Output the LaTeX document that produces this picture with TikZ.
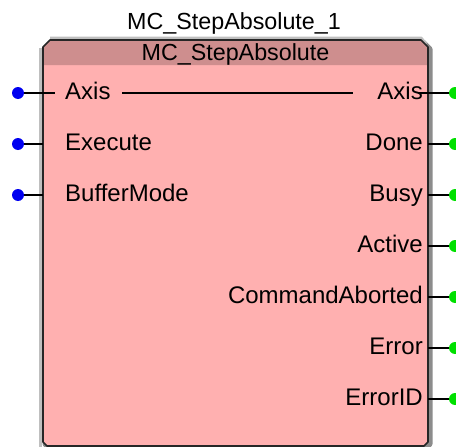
\documentclass[tikz,border=0pt]{standalone}
\usepackage{fontspec}
\setmainfont{Liberation Sans}
\definecolor{bodypink}{RGB}{255,176,176}
\definecolor{headpink}{RGB}{206,142,142}
\definecolor{pingreen}{RGB}{0,224,0}
\definecolor{pinblue}{RGB}{0,0,240}
\begin{document}
\begin{tikzpicture}[x=1pt,y=-1pt,
  lbl/.style={font=\fontsize{24}{27}\selectfont, inner sep=0pt},
  ttl/.style={font=\fontsize{23.3}{26}\selectfont, inner sep=0pt},
  inpin/.style={circle, fill=pinblue, minimum size=12pt, inner sep=0pt},
  outpin/.style={circle, fill=pingreen, minimum size=12pt, inner sep=0pt},
  wire/.style={draw=black, line width=1.2pt}]
\useasboundingbox (0,0) rectangle (456,447);
% shadow
\draw[black!45, line width=5pt, line join=round]
  (52,42) -- (423,42) -- (430,49) -- (430,444) -- (426,448) -- (49,448) -- (45,444) -- (45,49) -- cycle;
\draw[black!25, line width=3pt, line join=round]
  (50,38) -- (421,38) -- (426,44);
\draw[black!25, line width=3pt] (40,48) -- (40,447);
% body
\fill[bodypink] (50,40) -- (421,40) -- (428,47) -- (428,442) -- (424,446) -- (47,446) -- (43,442) -- (43,47) -- cycle;
% header band
\fill[headpink] (50,40) -- (421,40) -- (428,47) -- (428,65) -- (43,65) -- (43,47) -- cycle;
% border
\draw[black!85, line width=1.6pt, line join=round]
  (50,40) -- (421,40) -- (428,47) -- (428,442) -- (424,446) -- (47,446) -- (43,442) -- (43,47) -- cycle;
% titles
\node[ttl, anchor=base] (inst) at (234,30) {MC\_StepAbsolute\_1};
\node[ttl, anchor=base] (fbname) at (235.5,60) {MC\_StepAbsolute};
% input pins
\node[inpin] (pAxisIn) at (18,93) {};
\node[inpin] (pExecute) at (18,144) {};
\node[inpin] (pBuffer) at (18,195) {};
\coordinate (eAxisIn) at (55,93);
\coordinate (eExecute) at (43,144);
\coordinate (eBuffer) at (43,195);
\draw[wire] (pAxisIn) -- (eAxisIn);
\draw[wire] (pExecute) -- (eExecute);
\draw[wire] (pBuffer) -- (eBuffer);
\node[lbl, anchor=base west] (lAxisIn) at (65,99) {Axis};
\node[lbl, anchor=base west] (lExecute) at (65,150) {Execute};
\node[lbl, anchor=base west] (lBuffer) at (65,201) {BufferMode};
% output pins
\node[lbl, anchor=base east] (lAxisOut) at (423,99) {Axis};
\node[lbl, anchor=base east] (lDone) at (423,150) {Done};
\node[lbl, anchor=base east] (lBusy) at (423,201) {Busy};
\node[lbl, anchor=base east] (lActive) at (423,252) {Active};
\node[lbl, anchor=base east] (lCmd) at (423,303) {CommandAborted};
\node[lbl, anchor=base east] (lError) at (423,354) {Error};
\node[lbl, anchor=base east] (lErrorID) at (423,405) {ErrorID};
\coordinate (thruA) at (122,93);
\coordinate (thruB) at (353,93);
\draw[wire] (thruA) -- (thruB);
\coordinate (eAxisOut) at (418,93);
\coordinate (eDone) at (428,144);
\coordinate (eBusy) at (428,195);
\coordinate (eActive) at (428,246);
\coordinate (eCmd) at (428,297);
\coordinate (eError) at (428,348);
\coordinate (eErrorID) at (428,399);
\node[outpin] (pAxisOut) at (455,93) {};
\node[outpin] (pDone) at (455,144) {};
\node[outpin] (pBusy) at (455,195) {};
\node[outpin] (pActive) at (455,246) {};
\node[outpin] (pCmd) at (455,297) {};
\node[outpin] (pError) at (455,348) {};
\node[outpin] (pErrorID) at (455,399) {};
\draw[wire] (eAxisOut) -- (pAxisOut);
\draw[wire] (eDone) -- (pDone);
\draw[wire] (eBusy) -- (pBusy);
\draw[wire] (eActive) -- (pActive);
\draw[wire] (eCmd) -- (pCmd);
\draw[wire] (eError) -- (pError);
\draw[wire] (eErrorID) -- (pErrorID);
\end{tikzpicture}
\end{document}
